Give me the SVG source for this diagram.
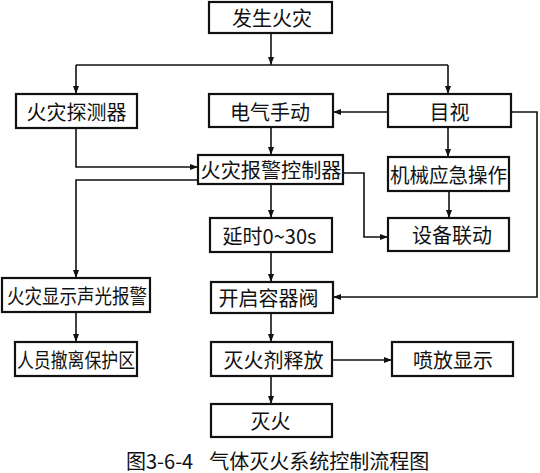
<svg xmlns="http://www.w3.org/2000/svg" width="540" height="473" viewBox="0 0 540 473">
<style>
.box{fill:#fff;stroke:#111;stroke-width:2.2}
.t{font-family:"Noto Sans CJK SC","Noto Sans",sans-serif;font-size:20px;fill:#111;text-anchor:middle;dominant-baseline:central}
.c{fill:none;stroke:#111;stroke-width:1.6}
.cap{font-family:"Noto Sans CJK SC","Noto Sans",sans-serif;font-size:20px;fill:#111;dominant-baseline:central}
</style>
<defs>
<marker id="ah" markerUnits="userSpaceOnUse" markerWidth="9" markerHeight="6" refX="8" refY="3" orient="auto">
<path d="M0,0 L8,3 L0,6 z" fill="#111"/>
</marker>
</defs>
<rect width="540" height="473" fill="#fff"/>
<g id="connectors">
<path class="c" d="M271 33 V65" marker-end="url(#ah)"/>
<path class="c" d="M76 65 H448"/>
<path class="c" d="M76 65 V94" marker-end="url(#ah)"/>
<path class="c" d="M448 65 V94" marker-end="url(#ah)"/>
<path class="c" d="M76 128 V167 H198" marker-end="url(#ah)"/>
<path class="c" d="M271 127 V155" marker-end="url(#ah)"/>
<path class="c" d="M388 112 H333" marker-end="url(#ah)"/>
<path class="c" d="M511 112 H537 V297 H333" marker-end="url(#ah)"/>
<path class="c" d="M448 127 V157" marker-end="url(#ah)"/>
<path class="c" d="M198 180 H76 V278" marker-end="url(#ah)"/>
<path class="c" d="M343 173 H364 V237 H388" marker-end="url(#ah)"/>
<path class="c" d="M449 191 V218" marker-end="url(#ah)"/>
<path class="c" d="M271 184 V218" marker-end="url(#ah)"/>
<path class="c" d="M271 252 V282" marker-end="url(#ah)"/>
<path class="c" d="M271 313 V342" marker-end="url(#ah)"/>
<path class="c" d="M332 360 H392" marker-end="url(#ah)"/>
<path class="c" d="M271 376 V404" marker-end="url(#ah)"/>
<path class="c" d="M76 312 V342" marker-end="url(#ah)"/>
</g>
<g id="n1"><rect class="box" x="209" y="2" width="123" height="31"/><text class="t" x="272" y="17">发生火灾</text></g>
<g id="n2"><rect class="box" x="16" y="94" width="121" height="34"/><text class="t" x="76.5" y="111">火灾探测器</text></g>
<g id="n3"><rect class="box" x="209" y="94" width="124" height="33"/><text class="t" x="270" y="111">电气手动</text></g>
<g id="n4"><rect class="box" x="388" y="94" width="123" height="33"/><text class="t" x="449.5" y="111">目视</text></g>
<g id="n5"><rect class="box" x="198" y="155" width="145" height="29"/><text class="t" x="271" y="169.5" textLength="141" lengthAdjust="spacingAndGlyphs">火灾报警控制器</text></g>
<g id="n6"><rect class="box" x="388" y="157" width="121" height="34"/><text class="t" x="448.5" y="174" textLength="117" lengthAdjust="spacingAndGlyphs">机械应急操作</text></g>
<g id="n7"><rect class="box" x="210" y="218" width="122" height="34"/><text class="t" x="269.5" y="235">延时0~30s</text></g>
<g id="n8"><rect class="box" x="388" y="218" width="121" height="33"/><text class="t" x="452" y="234.5">设备联动</text></g>
<g id="n9"><rect class="box" x="2" y="278" width="148" height="34"/><text class="t" x="77" y="295" textLength="140" lengthAdjust="spacingAndGlyphs">火灾显示声光报警</text></g>
<g id="n10"><rect class="box" x="211" y="282" width="122" height="31"/><text class="t" x="268.5" y="297.5">开启容器阀</text></g>
<g id="n11"><rect class="box" x="15" y="342" width="122" height="34"/><text class="t" x="76" y="359" textLength="118" lengthAdjust="spacingAndGlyphs">人员撤离保护区</text></g>
<g id="n12"><rect class="box" x="211" y="342" width="121" height="34"/><text class="t" x="273.5" y="359">灭火剂释放</text></g>
<g id="n13"><rect class="box" x="392" y="342" width="121" height="34"/><text class="t" x="453" y="359">喷放显示</text></g>
<g id="n14"><rect class="box" x="211" y="404" width="121" height="33"/><text class="t" x="270.5" y="420.5">灭火</text></g>
<text class="cap" x="126" y="460">图3-6-4<tspan dx="16">气体灭火系统控制流程图</tspan></text>
</svg>
